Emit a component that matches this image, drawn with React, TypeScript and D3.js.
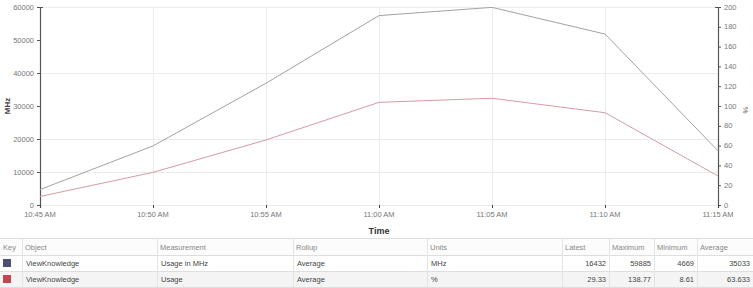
import React, { useEffect, useRef } from "react";
import * as d3 from "d3";

const times = ["10:45 AM", "10:50 AM", "10:55 AM", "11:00 AM", "11:05 AM", "11:10 AM", "11:15 AM"];
const mhzValues = [4669, 17900, 36900, 57400, 59885, 51800, 16432];
const pctValues = [8.61, 33, 65.7, 103.7, 107.8, 93.2, 29.33];
const leftTicks = [0, 10000, 20000, 30000, 40000, 50000, 60000];
const rightTicks = [0, 20, 40, 60, 80, 100, 120, 140, 160, 180, 200];
const gridValues = [10000, 20000, 40000, 60000];

const tableHeaders = ["Key", "Object", "Measurement", "Rollup", "Units", "Latest", "Maximum", "Minimum", "Average"];
const rowObjects = ["ViewKnowledge", "ViewKnowledge"];
const rowMeasurements = ["Usage in MHz", "Usage"];
const rowRollups = ["Average", "Average"];
const rowUnits = ["MHz", "%"];
const rowLatest = ["16432", "29.33"];
const rowMaximum = ["59885", "138.77"];
const rowMinimum = ["4669", "8.61"];
const rowAverage = ["35033", "63.633"];
const keyColors = ["#4d4f6e", "#c94452"];

export default function App() {
  const ref = useRef<SVGSVGElement>(null);
  useEffect(() => {
    const svg = d3.select(ref.current);
    svg.selectAll("*").remove();
    const font = "'Liberation Sans', Arial, sans-serif";
    const left = 40, right = 718, top = 7, bottom = 205;
    const x = d3.scalePoint<string>().domain(times).range([left, right]);
    const yL = d3.scaleLinear().domain([0, 60000]).range([bottom, top]);
    const yR = d3.scaleLinear().domain([0, 200]).range([bottom, top]);

    const g = svg.append("g");
    // grid
    g.selectAll("line.hg").data(gridValues.concat([0])).enter().append("line")
      .attr("x1", left).attr("x2", right).attr("y1", d => yL(d) + 0.5).attr("y2", d => yL(d) + 0.5)
      .attr("stroke", "#ececec").attr("stroke-width", 1);
    g.selectAll("line.vg").data(times.slice(1, 6)).enter().append("line")
      .attr("x1", d => x(d)! + 0.5).attr("x2", d => x(d)! + 0.5).attr("y1", top).attr("y2", bottom)
      .attr("stroke", "#ececec").attr("stroke-width", 1);

    // left axis
    g.append("line").attr("x1", left + 0.5).attr("x2", left + 0.5).attr("y1", top).attr("y2", bottom + 3)
      .attr("stroke", "#555").attr("stroke-width", 1.2);
    g.append("line").attr("x1", left).attr("x2", left + 3).attr("y1", top + 0.5).attr("y2", top + 0.5).attr("stroke", "#555");
    leftTicks.forEach(t => {
      g.append("line").attr("x1", left - 3).attr("x2", left).attr("y1", yL(t) + 0.5).attr("y2", yL(t) + 0.5).attr("stroke", "#555");
      g.append("text").attr("x", left - 6).attr("y", yL(t)).attr("dy", "0.35em").attr("text-anchor", "end")
        .attr("font-family", font).attr("font-size", 7.5).attr("fill", "#777").text(String(t));
    });
    // right axis
    g.append("line").attr("x1", right + 0.5).attr("x2", right + 0.5).attr("y1", top).attr("y2", bottom + 3)
      .attr("stroke", "#555").attr("stroke-width", 1.2);
    g.append("line").attr("x1", right - 3).attr("x2", right).attr("y1", top + 0.5).attr("y2", top + 0.5).attr("stroke", "#555");
    rightTicks.forEach(t => {
      g.append("line").attr("x1", right).attr("x2", right + 3).attr("y1", yR(t) + 0.5).attr("y2", yR(t) + 0.5).attr("stroke", "#555");
      g.append("text").attr("x", right + 6).attr("y", yR(t)).attr("dy", "0.35em").attr("text-anchor", "start")
        .attr("font-family", font).attr("font-size", 7.5).attr("fill", "#777").text(String(t));
    });
    // bottom ticks
    times.forEach(t => {
      g.append("line").attr("x1", x(t)! + 0.5).attr("x2", x(t)! + 0.5).attr("y1", bottom).attr("y2", bottom + 3).attr("stroke", "#444");
      g.append("text").attr("x", x(t)!).attr("y", 217).attr("text-anchor", "middle")
        .attr("font-family", font).attr("font-size", 7.5).attr("fill", "#777").text(t);
    });
    // titles
    g.append("text").attr("transform", `translate(10,${(top + bottom) / 2}) rotate(-90)`).attr("text-anchor", "middle")
      .attr("font-family", font).attr("font-size", 8).attr("font-weight", "bold").attr("fill", "#444").text("MHz");
    g.append("text").attr("transform", `translate(743,${(top + bottom) / 2 + 4}) rotate(90)`).attr("text-anchor", "middle")
      .attr("font-family", font).attr("font-size", 8).attr("fill", "#666").text("%");
    g.append("text").attr("x", (left + right) / 2).attr("y", 234).attr("text-anchor", "middle")
      .attr("font-family", font).attr("font-size", 9).attr("font-weight", "bold").attr("fill", "#333").text("Time");

    // lines
    const lineL = d3.line<number>().x((_, i) => x(times[i])!).y(d => yL(d));
    const lineR = d3.line<number>().x((_, i) => x(times[i])!).y(d => yR(d));
    g.append("path").attr("d", lineL(mhzValues)!).attr("fill", "none").attr("stroke", "#a3a3a3").attr("stroke-width", 1);
    g.append("path").attr("d", lineR(pctValues)!).attr("fill", "none").attr("stroke", "#d99aa4").attr("stroke-width", 1);

    // table
    const t = svg.append("g");
    const colX = [0, 22, 157, 293, 427, 562, 609, 654, 697, 753];
    const rowY = [238, 255, 271, 287];
    t.append("rect").attr("x", 0).attr("y", rowY[0]).attr("width", 753).attr("height", rowY[1] - rowY[0]).attr("fill", "#fcfcfc");
    t.append("rect").attr("x", 0).attr("y", rowY[2]).attr("width", 753).attr("height", rowY[3] - rowY[2]).attr("fill", "#f4f4f4");
    rowY.forEach(y => {
      t.append("line").attr("x1", 0).attr("x2", 753).attr("y1", y + 0.5).attr("y2", y + 0.5).attr("stroke", "#dedede");
    });
    colX.slice(1, 9).forEach(cx => {
      t.append("line").attr("x1", cx + 0.5).attr("x2", cx + 0.5).attr("y1", rowY[0]).attr("y2", rowY[3]).attr("stroke", "#e4e4e4");
    });
    tableHeaders.forEach((h, i) => {
      t.append("text").attr("x", colX[i] + 3).attr("y", 250).attr("font-family", font).attr("font-size", 7.5)
        .attr("fill", "#888").text(h);
    });
    const textCols = [rowObjects, rowMeasurements, rowRollups, rowUnits];
    const numCols = [rowLatest, rowMaximum, rowMinimum, rowAverage];
    [0, 1].forEach(r => {
      const cy = (rowY[r + 1] + rowY[r + 2]) / 2;
      t.append("rect").attr("x", 3).attr("y", cy - 4).attr("width", 8).attr("height", 8).attr("fill", keyColors[r]);
      textCols.forEach((col, ci) => {
        t.append("text").attr("x", colX[ci + 1] + 4).attr("y", cy).attr("dy", "0.35em")
          .attr("font-family", font).attr("font-size", 7.5).attr("fill", "#444").text(col[r]);
      });
      numCols.forEach((col, ci) => {
        t.append("text").attr("x", colX[ci + 6] - 3).attr("y", cy).attr("dy", "0.35em").attr("text-anchor", "end")
          .attr("font-family", font).attr("font-size", 7.5).attr("fill", "#444").text(col[r]);
      });
    });
  }, []);
  return (
    <svg ref={ref} width={753} height={288} style={{ position: "absolute", left: 0, top: 0, background: "#fff" }} />
  );
}
